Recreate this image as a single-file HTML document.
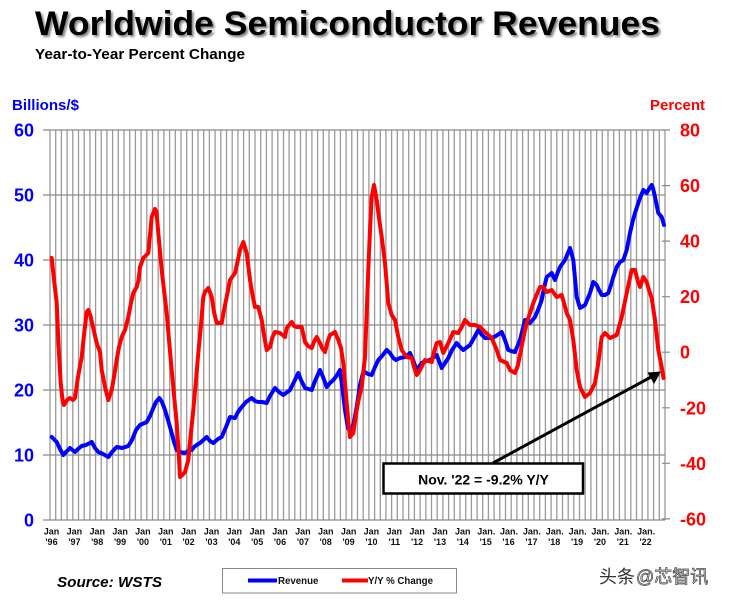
<!DOCTYPE html>
<html>
<head>
<meta charset="utf-8">
<style>
html,body{margin:0;padding:0;background:#fff;}
svg{display:block;}
text{font-family:"Liberation Sans","Noto Sans CJK SC",sans-serif;}
</style>
</head>
<body>
<svg width="732" height="600" viewBox="0 0 732 600" xmlns="http://www.w3.org/2000/svg">
<defs>
<filter id="sh" x="-5%" y="-20%" width="110%" height="150%">
<feDropShadow dx="2" dy="2" stdDeviation="1" flood-color="#666" flood-opacity="0.8"/>
</filter>
</defs>
<rect width="732" height="600" fill="#fff"/>

<!-- Title -->
<text x="35" y="35" font-size="34" font-weight="bold" fill="#000" textLength="625" lengthAdjust="spacingAndGlyphs" filter="url(#sh)">Worldwide Semiconductor Revenues</text>
<text x="35" y="59" font-size="15" font-weight="bold" fill="#000" textLength="210" lengthAdjust="spacingAndGlyphs">Year-to-Year Percent Change</text>

<text x="12" y="110" font-size="14.5" font-weight="bold" fill="#0000ff" textLength="67" lengthAdjust="spacingAndGlyphs">Billions/$</text>
<text x="650" y="110" font-size="14.5" font-weight="bold" fill="#ff0000" textLength="55" lengthAdjust="spacingAndGlyphs">Percent</text>

<!-- Vertical grid lines -->
<path fill="none" stroke="#9a9a9a" stroke-width="1.3" d="M50.0 130V520M55.7 130V520M61.4 130V520M67.1 130V520M72.8 130V520M78.5 130V520M84.2 130V520M89.9 130V520M95.6 130V520M101.2 130V520M106.9 130V520M112.6 130V520M118.3 130V520M124.0 130V520M129.7 130V520M135.4 130V520M141.1 130V520M146.8 130V520M152.5 130V520M158.2 130V520M163.9 130V520M169.6 130V520M175.3 130V520M181.0 130V520M186.7 130V520M192.4 130V520M198.0 130V520M203.7 130V520M209.4 130V520M215.1 130V520M220.8 130V520M226.5 130V520M232.2 130V520M237.9 130V520M243.6 130V520M249.3 130V520M255.0 130V520M260.7 130V520M266.4 130V520M272.1 130V520M277.8 130V520M283.5 130V520M289.1 130V520M294.8 130V520M300.5 130V520M306.2 130V520M311.9 130V520M317.6 130V520M323.3 130V520M329.0 130V520M334.7 130V520M340.4 130V520M346.1 130V520M351.8 130V520M357.5 130V520M363.2 130V520M368.9 130V520M374.6 130V520M380.3 130V520M385.9 130V520M391.6 130V520M397.3 130V520M403.0 130V520M408.7 130V520M414.4 130V520M420.1 130V520M425.8 130V520M431.5 130V520M437.2 130V520M442.9 130V520M448.6 130V520M454.3 130V520M460.0 130V520M465.7 130V520M471.4 130V520M477.1 130V520M482.7 130V520M488.4 130V520M494.1 130V520M499.8 130V520M505.5 130V520M511.2 130V520M516.9 130V520M522.6 130V520M528.3 130V520M534.0 130V520M539.7 130V520M545.4 130V520M551.1 130V520M556.8 130V520M562.5 130V520M568.2 130V520M573.8 130V520M579.5 130V520M585.2 130V520M590.9 130V520M596.6 130V520M602.3 130V520M608.0 130V520M613.7 130V520M619.4 130V520M625.1 130V520M630.8 130V520M636.5 130V520M642.2 130V520M647.9 130V520M653.6 130V520M659.3 130V520M665.0 130V520"/>

<!-- Horizontal grid lines -->
<path fill="none" stroke="#8a8a8a" stroke-width="1.2" d="M43 130H665M43 195H665M43 260H665M43 325H665M43 390H665M43 455H665M43 520H665"/>
<!-- Right ticks -->
<path fill="none" stroke="#8a8a8a" stroke-width="1.2" d="M662 130H670M662 185.6H670M662 241.1H670M662 296.7H670M662 352.2H670M662 407.8H670M662 463.3H670M662 518.9H670"/>

<!-- Left axis labels -->
<g font-size="18" font-weight="bold" fill="#0000ff" text-anchor="end">
<text x="34" y="136.5">60</text>
<text x="34" y="201.5">50</text>
<text x="34" y="266.5">40</text>
<text x="34" y="331.5">30</text>
<text x="34" y="396.5">20</text>
<text x="34" y="461.5">10</text>
<text x="34" y="526.5">0</text>
</g>
<!-- Right axis labels -->
<g font-size="18" font-weight="bold" fill="#ff0000">
<text x="680" y="136.5">80</text>
<text x="680" y="192.1">60</text>
<text x="680" y="247.6">40</text>
<text x="680" y="303.2">20</text>
<text x="680" y="358.7">0</text>
<text x="680" y="414.3">-20</text>
<text x="680" y="469.8">-40</text>
<text x="680" y="525.4">-60</text>
</g>

<!-- X axis labels -->
<g font-size="9" font-weight="bold" fill="#111" text-anchor="middle">
<text x="51.5" y="534.5">Jan</text><text x="51.5" y="545">'96</text>
<text x="74.4" y="534.5">Jan</text><text x="74.4" y="545">'97</text>
<text x="97.2" y="534.5">Jan</text><text x="97.2" y="545">'98</text>
<text x="120.1" y="534.5">Jan</text><text x="120.1" y="545">'99</text>
<text x="142.9" y="534.5">Jan</text><text x="142.9" y="545">'00</text>
<text x="165.8" y="534.5">Jan</text><text x="165.8" y="545">'01</text>
<text x="188.6" y="534.5">Jan</text><text x="188.6" y="545">'02</text>
<text x="211.5" y="534.5">Jan</text><text x="211.5" y="545">'03</text>
<text x="234.3" y="534.5">Jan</text><text x="234.3" y="545">'04</text>
<text x="257.2" y="534.5">Jan</text><text x="257.2" y="545">'05</text>
<text x="280.0" y="534.5">Jan</text><text x="280.0" y="545">'06</text>
<text x="302.9" y="534.5">Jan</text><text x="302.9" y="545">'07</text>
<text x="325.7" y="534.5">Jan</text><text x="325.7" y="545">'08</text>
<text x="348.6" y="534.5">Jan</text><text x="348.6" y="545">'09</text>
<text x="371.4" y="534.5">Jan</text><text x="371.4" y="545">'10</text>
<text x="394.3" y="534.5">Jan</text><text x="394.3" y="545">'11</text>
<text x="417.1" y="534.5">Jan</text><text x="417.1" y="545">'12</text>
<text x="440.0" y="534.5">Jan</text><text x="440.0" y="545">'13</text>
<text x="462.8" y="534.5">Jan</text><text x="462.8" y="545">'14</text>
<text x="486.2" y="534.5">Jan.</text><text x="485.7" y="545">'15</text>
<text x="509.0" y="534.5">Jan.</text><text x="508.5" y="545">'16</text>
<text x="531.9" y="534.5">Jan.</text><text x="531.4" y="545">'17</text>
<text x="554.7" y="534.5">Jan.</text><text x="554.2" y="545">'18</text>
<text x="577.6" y="534.5">Jan.</text><text x="577.1" y="545">'19</text>
<text x="600.4" y="534.5">Jan.</text><text x="599.9" y="545">'20</text>
<text x="623.3" y="534.5">Jan.</text><text x="622.8" y="545">'21</text>
<text x="646.1" y="534.5">Jan.</text><text x="645.6" y="545">'22</text>
</g>

<!-- Revenue (blue) -->
<polyline fill="none" stroke="#0000ff" stroke-width="4" stroke-linejoin="round" stroke-linecap="round" points="51.7,437 56.7,442 60,449 63.3,455 66,452 70,448 75,452 78,449 81.7,446 86,445 91.7,442 95,448 98.3,452 103,454 108.3,457 112,452 116.7,447 122,448 128.3,446 132,440 136,430 140,425 146.7,422 150,416 153.3,408 156,402 159.3,398 162,402 165,410 168,420 171.7,433 174,442 176.7,450 180,452 185,453 188,451 191.7,450 194,447 196.7,445 200,443 206.7,437 210,441 213.3,443 218,439 221.7,437 226,427 230,417 235,418 238,412 241.7,407 246,402 251.7,398 255,401 258.3,402 262,402 266.7,403 270,396 275,388 279,392 283.3,395 286,393 290,390 294,382 298.3,373 301,380 305,388 311.7,390 315,381 320,370 323,377 326.7,387 330,383 333.3,380 336.5,376 340,370 342,385 345,410 348,428 351,432 354,422 357,405 360,385 363,373 365,372 368,374 371.7,375 375,367 378.3,360 382,356 386.7,350 390,353 393.3,358 396,360 400,358 405,357 410,353 413,360 416.7,370 421.7,363 426,361 430,360 436.7,355 439,361 441.7,368 445,363 448.3,358 452,350 456.7,343 460,347 463.3,350 466,348 470,345 474,338 478.3,330 482,335 485,338 491.7,338 496,336 501.7,332 505,340 508.3,350 511,351 515,352 520,340 522.5,330 525,320 530,323 535,317 538,310 541.7,300 544,288 546.7,277 551.7,273 555,280 557.5,273 560,267 565,260 567.5,254 570,248 573.3,260 576.7,297 580,308 585,305 590,293 593.3,282 596.7,285 599,290 601.7,295 605,295 608.3,293 611,285 613.3,277 616.7,267 620,262 623.3,260 626.7,250 630,233 632.5,222 635,213 640,198 643.3,190 646.7,193 649,189 651.7,185 653,188 655,197 658.3,213 661.7,217 664,225"/>

<!-- Y/Y % change (red) -->
<polyline fill="none" stroke="#ff0000" stroke-width="4" stroke-linejoin="round" stroke-linecap="round" points="51.7,258 53.5,275 56.7,303 58.5,345 60.7,383 62.5,400 64,405 67,400 70,398 73,400 75,398 78,377 81.7,357 84,335 86.7,312 88.3,310 90.5,316 93,327 96.7,343 100,352 101.7,370 105,387 108.3,400 111.7,390 114,377 116.7,360 119,347 121.7,337 125,330 128.3,317 131,303 133.3,293 136.7,287 138.5,280 140,267 143.3,258 148.3,253 150,235 151.7,217 155,209 156.5,212 158.3,233 161.7,270 164,290 166.7,313 169,340 171.7,370 174,395 176.7,423 178.5,450 180,477 182.5,475 185,472 188.3,460 190.5,437 193.3,410 196,380 198.3,353 201,325 203.3,297 205,292 208.3,288 211.7,297 214,312 216.7,323 221.7,323 224,310 226.7,297 230,280 235,273 237.5,262 240,250 243.3,242 246.7,253 250,280 252.5,295 255,307 258.3,307 261.7,320 264,335 266.7,350 270,347 272.5,337 275,332 280,333 285,337 286.7,328 291.7,322 294,326 296.7,327 301.7,327 305,342 308,346 311.7,348 314,342 316.7,337 320,343 322,348 325,352 327.5,342 330,335 335,332 338.3,340 341,348 343.3,363 345,383 346.7,403 348.5,423 350,437 353.3,433 356.7,410 359,398 361.7,387 365,357 368.3,270 370,230 371.7,197 374,185 376.7,200 379,218 381.7,237 385,263 388.3,303 391.7,315 395,320 398.3,337 401.7,350 406.7,357 411.7,358 414,367 416.7,375 420,370 425,360 431.7,362 434,352 436.7,343 440,342 443.3,353 448.3,343 453.3,332 458.3,333 461.7,327 465,320 470,325 475,325 480,327 485,332 491.7,338 496.7,350 500,360 506.7,363 510,370 515,373 518,365 521,350 523.5,337 526.7,323 533.3,303 536.5,295 540,287 543.3,287 546.7,292 551.7,290 556.7,297 561.7,295 564,303 566.7,313 570,320 573.3,340 576.7,370 580,387 585,397 590,393 595,383 598.3,363 601.7,337 605,333 610,338 616.7,335 619,327 621.7,317 626.7,293 631.7,270 635,270 637.5,280 640,287 643.3,277 646.7,282 649,290 651.7,298 655,320 658.3,350 661.7,367 663.5,378"/>

<!-- Arrow -->
<line x1="493" y1="463" x2="652" y2="376.5" stroke="#000" stroke-width="3"/>
<polygon points="661,371.5 647.5,372.5 654,384" fill="#000"/>

<!-- Annotation box -->
<rect x="383.5" y="463.5" width="199.5" height="30" fill="#fff" stroke="#000" stroke-width="2.5"/>
<text x="483.5" y="484.5" font-size="14" font-weight="bold" fill="#000" text-anchor="middle">Nov. '22 = -9.2% Y/Y</text>

<!-- Source -->
<text x="57" y="587" font-size="15" font-weight="bold" font-style="italic" fill="#000" textLength="105" lengthAdjust="spacingAndGlyphs">Source: WSTS</text>

<!-- Legend -->
<rect x="222.5" y="568.5" width="234" height="24.5" fill="#fff" stroke="#888" stroke-width="1"/>
<line x1="248" y1="580.5" x2="277" y2="580.5" stroke="#0000ff" stroke-width="4"/>
<text x="278" y="584" font-size="9.7" font-weight="bold" fill="#111">Revenue</text>
<line x1="342" y1="580.5" x2="368" y2="580.5" stroke="#ff0000" stroke-width="4"/>
<text x="368" y="584" font-size="9.7" font-weight="bold" fill="#111">Y/Y % Change</text>

<!-- Watermark -->
<text x="599" y="583" font-size="18" fill="#333" font-family="'Liberation Sans','Noto Sans CJK SC',sans-serif">头条</text>
<text x="636" y="583" font-size="18" fill="#ddd" stroke="#444" stroke-width="0.7" font-family="'Liberation Sans','Noto Sans CJK SC',sans-serif">@芯智讯</text>
</svg>
</body>
</html>
